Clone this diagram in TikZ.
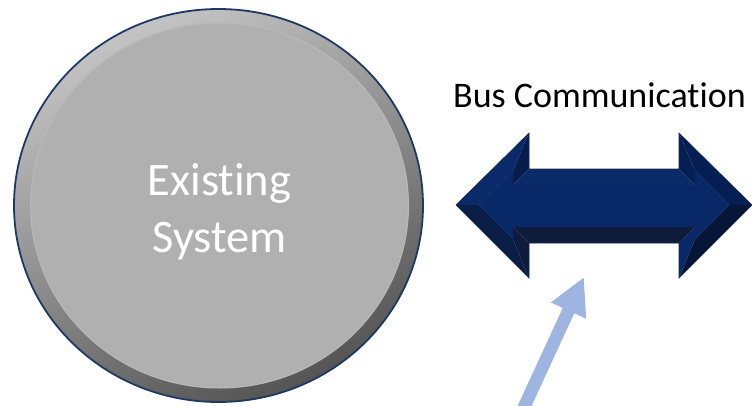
\documentclass[tikz,border=0pt]{standalone}
\usepackage{fontspec}
\setmainfont{Carlito}[Ligatures={NoCommon,NoRequired,NoContextual}]
\usetikzlibrary{arrows.meta}
\definecolor{face}{RGB}{9,40,104}
\definecolor{facetA}{RGB}{10,42,106}
\definecolor{facetB}{RGB}{6,28,76}
\definecolor{facetC}{RGB}{5,31,84}
\definecolor{facetD}{RGB}{5,22,56}
\definecolor{facetE}{RGB}{14,27,58}
\definecolor{facetF}{RGB}{10,29,70}
\definecolor{arrline}{RGB}{25,40,75}
\definecolor{ringlight}{RGB}{196,196,196}
\definecolor{ringdark}{RGB}{84,84,84}
\definecolor{disc}{RGB}{176,176,176}
\definecolor{rim}{RGB}{31,56,100}
\definecolor{pointer}{RGB}{158,181,226}
\tikzset{
  facet/.style={fill=#1},
  circletext/.style={text=white, align=center, font=\fontsize{46.5}{57}\selectfont},
  labeltext/.style={text=black, font=\fontsize{36}{42}\selectfont},
  pointerarrow/.style={draw=pointer, line width=12.7pt, -{Triangle[length=37pt,width=36pt]}}
}
\begin{document}
\begin{tikzpicture}[x=1pt,y=-1pt]
\useasboundingbox (0,0) rectangle (752,405);
% Existing system disc
\shadedraw[top color=ringlight, bottom color=ringdark, shading angle=25, draw=rim, line width=1.8pt]
  (218.5,205.5) ellipse [x radius=204.5, y radius=196.5];
\fill[disc] (219.5,205.5) ellipse [x radius=189.5, y radius=183];
\draw[white, opacity=0.12, line width=1pt] (219.5,205.5) ellipse [x radius=189, y radius=182.5];
\node[circletext] (sys) at (219.5,212) {Existing\\System};
% bus double arrow
\coordinate (a1) at (456,205);
\coordinate (a2) at (529,133);
\coordinate (a3) at (529,169);
\coordinate (a4) at (679,169);
\coordinate (a5) at (679,133);
\coordinate (a6) at (752,205);
\coordinate (a7) at (679,278);
\coordinate (a8) at (679,243);
\coordinate (a9) at (529,243);
\coordinate (a10) at (529,278);
\coordinate (b1) at (478.6,205);
\coordinate (b2) at (513,170.6);
\coordinate (b3) at (513,185);
\coordinate (b4) at (695,185);
\coordinate (b5) at (695,170.6);
\coordinate (b6) at (729.4,205);
\coordinate (b7) at (695,239.4);
\coordinate (b8) at (695,227);
\coordinate (b9) at (513,227);
\coordinate (b10) at (513,239.4);
\fill[facet=facetA] (a1)--(a2)--(b2)--(b1)--cycle;
\fill[facet=facetB] (a2)--(a3)--(b3)--(b2)--cycle;
\fill[facet=facetA] (a3)--(a4)--(b4)--(b3)--cycle;
\fill[facet=facetC] (a4)--(a5)--(b5)--(b4)--cycle;
\fill[facet=facetC] (a5)--(a6)--(b6)--(b5)--cycle;
\fill[facet=facetD] (a6)--(a7)--(b7)--(b6)--cycle;
\fill[facet=face] (a7)--(a8)--(b8)--(b7)--cycle;
\fill[facet=facetE] (a8)--(a9)--(b9)--(b8)--cycle;
\fill[facet=facetE] (a9)--(a10)--(b10)--(b9)--cycle;
\fill[facet=facetF] (a10)--(a1)--(b1)--(b10)--cycle;
\fill[face] (b1)--(b2)--(b3)--(b4)--(b5)--(b6)--(b7)--(b8)--(b9)--(b10)--cycle;
\draw[arrline, line width=0.6pt, line join=miter] (a1)--(a2)--(a3)--(a4)--(a5)--(a6)--(a7)--(a8)--(a9)--(a10)--cycle;
\node[labeltext, anchor=base west, inner sep=0pt] (bus) at (453,107) {Bus Communication};
% pointer arrow
\coordinate (tail) at (522.7,410);
\coordinate (tip) at (584,277);
\draw[pointerarrow] (tail) -- (tip);
\end{tikzpicture}
\end{document}
